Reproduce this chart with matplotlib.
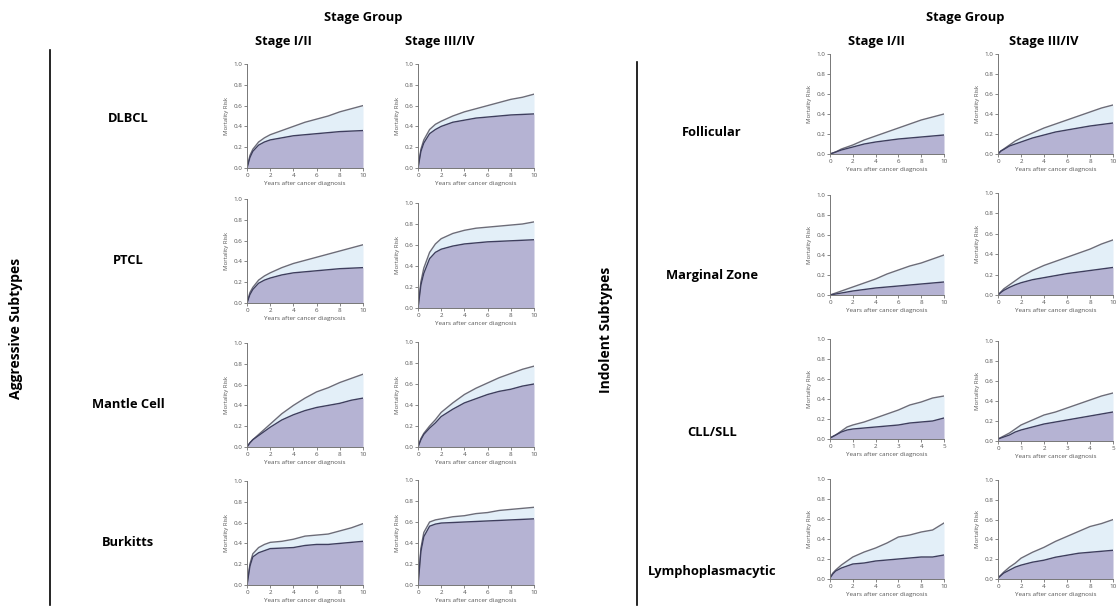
import matplotlib
matplotlib.use("Agg")
import matplotlib.pyplot as plt

plt.rcParams['font.family'] = ['Open Sans', 'DejaVu Sans']

# time points (years after diagnosis)
t10 = [0, 0.25, 0.5, 1, 1.5, 2, 3, 4, 5, 6, 7, 8, 9, 10]
t5 = [0, 0.25, 0.5, 0.75, 1, 1.5, 2, 2.5, 3, 3.5, 4, 4.5, 5]

stages = ["Stage I/II", "Stage III/IV"]
aggressive = ["DLBCL", "PTCL", "Mantle Cell", "Burkitts"]
indolent = ["Follicular", "Marginal Zone", "CLL/SLL", "Lymphoplasmacytic"]

# all-cause mortality (upper line) and lymphoma mortality (lower line)
dlbcl_12_all = [0, 0.12, 0.18, 0.25, 0.29, 0.32, 0.36, 0.40, 0.44, 0.47, 0.50, 0.54, 0.57, 0.60]
dlbcl_12_lym = [0, 0.10, 0.16, 0.22, 0.25, 0.27, 0.29, 0.31, 0.32, 0.33, 0.34, 0.35, 0.355, 0.36]
dlbcl_34_all = [0, 0.18, 0.27, 0.37, 0.42, 0.45, 0.50, 0.54, 0.57, 0.60, 0.63, 0.66, 0.68, 0.71]
dlbcl_34_lym = [0, 0.16, 0.24, 0.33, 0.37, 0.40, 0.44, 0.46, 0.48, 0.49, 0.50, 0.51, 0.515, 0.52]
ptcl_12_all = [0, 0.10, 0.15, 0.22, 0.26, 0.29, 0.34, 0.38, 0.41, 0.44, 0.47, 0.50, 0.53, 0.56]
ptcl_12_lym = [0, 0.08, 0.13, 0.19, 0.22, 0.24, 0.27, 0.29, 0.30, 0.31, 0.32, 0.33, 0.335, 0.34]
ptcl_34_all = [0, 0.25, 0.38, 0.53, 0.61, 0.66, 0.71, 0.74, 0.76, 0.77, 0.78, 0.79, 0.80, 0.82]
ptcl_34_lym = [0, 0.22, 0.33, 0.47, 0.53, 0.56, 0.59, 0.61, 0.62, 0.63, 0.635, 0.64, 0.645, 0.65]
mantle_12_all = [0, 0.04, 0.07, 0.12, 0.17, 0.22, 0.32, 0.40, 0.47, 0.53, 0.57, 0.62, 0.66, 0.70]
mantle_12_lym = [0, 0.04, 0.07, 0.11, 0.15, 0.19, 0.26, 0.31, 0.35, 0.38, 0.40, 0.42, 0.45, 0.47]
mantle_34_all = [0, 0.08, 0.13, 0.20, 0.26, 0.33, 0.42, 0.50, 0.56, 0.61, 0.66, 0.70, 0.74, 0.77]
mantle_34_lym = [0, 0.07, 0.12, 0.18, 0.23, 0.29, 0.36, 0.42, 0.46, 0.50, 0.53, 0.55, 0.58, 0.60]
burkitt_12_all = [0, 0.20, 0.30, 0.36, 0.39, 0.41, 0.42, 0.44, 0.47, 0.48, 0.49, 0.52, 0.55, 0.59]
burkitt_12_lym = [0, 0.18, 0.27, 0.31, 0.33, 0.35, 0.355, 0.36, 0.38, 0.39, 0.39, 0.40, 0.41, 0.42]
burkitt_34_all = [0, 0.35, 0.50, 0.60, 0.62, 0.63, 0.65, 0.66, 0.68, 0.69, 0.71, 0.72, 0.73, 0.74]
burkitt_34_lym = [0, 0.32, 0.46, 0.56, 0.58, 0.59, 0.595, 0.60, 0.605, 0.61, 0.615, 0.62, 0.625, 0.63]

foll_12_all = [0, 0.01, 0.02, 0.05, 0.07, 0.09, 0.14, 0.18, 0.22, 0.26, 0.30, 0.34, 0.37, 0.40]
foll_12_lym = [0, 0.01, 0.02, 0.04, 0.055, 0.07, 0.10, 0.12, 0.135, 0.15, 0.16, 0.17, 0.18, 0.19]
foll_34_all = [0, 0.03, 0.05, 0.09, 0.13, 0.16, 0.21, 0.26, 0.30, 0.34, 0.38, 0.42, 0.46, 0.49]
foll_34_lym = [0, 0.03, 0.045, 0.08, 0.10, 0.12, 0.16, 0.19, 0.22, 0.24, 0.26, 0.28, 0.295, 0.31]
mzl_12_all = [0, 0.01, 0.02, 0.04, 0.06, 0.08, 0.12, 0.16, 0.21, 0.25, 0.29, 0.32, 0.36, 0.40]
mzl_12_lym = [0, 0.005, 0.01, 0.02, 0.03, 0.04, 0.055, 0.07, 0.08, 0.09, 0.10, 0.11, 0.12, 0.13]
mzl_34_all = [0, 0.03, 0.06, 0.10, 0.14, 0.18, 0.24, 0.29, 0.33, 0.37, 0.41, 0.45, 0.50, 0.54]
mzl_34_lym = [0, 0.025, 0.045, 0.075, 0.10, 0.12, 0.15, 0.17, 0.19, 0.21, 0.225, 0.24, 0.255, 0.27]
cll_12_all = [0.01, 0.04, 0.08, 0.12, 0.14, 0.17, 0.21, 0.25, 0.29, 0.34, 0.37, 0.41, 0.43]
cll_12_lym = [0.01, 0.04, 0.07, 0.09, 0.10, 0.11, 0.12, 0.13, 0.14, 0.16, 0.17, 0.18, 0.21]
cll_34_all = [0.02, 0.05, 0.08, 0.12, 0.16, 0.21, 0.26, 0.29, 0.33, 0.37, 0.41, 0.45, 0.48]
cll_34_lym = [0.02, 0.04, 0.06, 0.09, 0.11, 0.14, 0.17, 0.19, 0.21, 0.23, 0.25, 0.27, 0.29]
lpl_12_all = [0.01, 0.06, 0.09, 0.14, 0.18, 0.22, 0.27, 0.31, 0.36, 0.42, 0.44, 0.47, 0.49, 0.56]
lpl_12_lym = [0.01, 0.05, 0.08, 0.11, 0.13, 0.15, 0.16, 0.18, 0.19, 0.20, 0.21, 0.22, 0.22, 0.24]
lpl_34_all = [0.01, 0.04, 0.07, 0.12, 0.16, 0.21, 0.27, 0.32, 0.38, 0.43, 0.48, 0.53, 0.56, 0.60]
lpl_34_lym = [0.01, 0.035, 0.06, 0.09, 0.12, 0.14, 0.17, 0.19, 0.22, 0.24, 0.26, 0.27, 0.28, 0.29]

W, H = 1120, 613
FILL_ALL = "#e3eff8"
FILL_LYM = "#b5b3d3"
LINE_ALL = "#6c6c78"
LINE_LYM = "#3e3e5e"
GREY = "#777777"
HEAD = 9.3


def small_plot(fig, box, t, y_all, y_lym, xmax):
    # box is (left, top, right, bottom) in pixels
    l, tp, r, b = box
    ax = fig.add_axes([l / W, 1 - b / H, (r - l) / W, (b - tp) / H])
    ax.fill_between(t, y_lym, y_all, color=FILL_ALL, lw=0)
    ax.fill_between(t, 0, y_lym, color=FILL_LYM, lw=0)
    ax.plot(t, y_all, color=LINE_ALL, lw=1.0)
    ax.plot(t, y_lym, color=LINE_LYM, lw=1.0)
    ax.set_xlim(0, xmax)
    ax.set_ylim(0, 1.0)
    ax.set_yticks([0, 0.2, 0.4, 0.6, 0.8, 1.0])
    ax.set_yticklabels(["0.0", "0.2", "0.4", "0.6", "0.8", "1.0"])
    if xmax == 10:
        ax.set_xticks([0, 2, 4, 6, 8, 10])
    else:
        ax.set_xticks([0, 1, 2, 3, 4, 5])
    ax.margins(0)
    for s in ["top", "right"]:
        ax.spines[s].set_visible(False)
    for s in ["left", "bottom"]:
        ax.spines[s].set_color(GREY)
        ax.spines[s].set_linewidth(0.7)
    ax.tick_params(labelsize=4.5, colors="#555555", length=2, width=0.5, pad=1.5)
    ax.set_ylabel("Mortality Risk", fontsize=4.3, color="#555555", labelpad=3)
    ax.set_xlabel("Years after cancer diagnosis", fontsize=4.5, color="#555555", labelpad=2)
    return ax


fig = plt.figure(figsize=(W / 100, H / 100), dpi=100)

# ---- aggressive panel ----
left_rows = [
    (dlbcl_12_all, dlbcl_12_lym, dlbcl_34_all, dlbcl_34_lym),
    (ptcl_12_all, ptcl_12_lym, ptcl_34_all, ptcl_34_lym),
    (mantle_12_all, mantle_12_lym, mantle_34_all, mantle_34_lym),
    (burkitt_12_all, burkitt_12_lym, burkitt_34_all, burkitt_34_lym),
]
left_cols = [(247, 363), (418, 534)]
left_y = [[(64, 168), (64, 168)], [(199, 303), (203, 308)],
          [(343, 447), (342, 447)], [(481, 585), (480, 585)]]
left_label_y = [119, 260, 405, 543]

for i, row in enumerate(left_rows):
    for j in range(2):
        ya, yl = row[2 * j], row[2 * j + 1]
        x0, x1 = left_cols[j]
        y0, y1 = left_y[i][j]
        small_plot(fig, (x0, y0, x1, y1), t10, ya, yl, 10)
    fig.text(128 / W, 1 - left_label_y[i] / H, aggressive[i], fontsize=HEAD,
             fontweight="bold", ha="center", va="center")

# ---- indolent panel ----
right_rows = [
    (foll_12_all, foll_12_lym, foll_34_all, foll_34_lym, t10, 10),
    (mzl_12_all, mzl_12_lym, mzl_34_all, mzl_34_lym, t10, 10),
    (cll_12_all, cll_12_lym, cll_34_all, cll_34_lym, t5, 5),
    (lpl_12_all, lpl_12_lym, lpl_34_all, lpl_34_lym, t10, 10),
]
right_cols = [(830, 944), (998, 1113)]
right_y = [[(54, 154), (54, 154)], [(195, 295), (193, 295)],
           [(339, 439), (341, 441)], [(479, 579), (480, 579)]]
right_label_y = [133, 276, 433, 572]

for i, row in enumerate(right_rows):
    for j in range(2):
        x0, x1 = right_cols[j]
        y0, y1 = right_y[i][j]
        small_plot(fig, (x0, y0, x1, y1), row[4], row[2 * j], row[2 * j + 1], row[5])
    fig.text(712 / W, 1 - right_label_y[i] / H, indolent[i], fontsize=HEAD,
             fontweight="bold", ha="center", va="center")

# ---- headers ----
fig.text(363 / W, 1 - 17 / H, "Stage Group", fontsize=HEAD, fontweight="bold", ha="center", va="center")
fig.text(283 / W, 1 - 41 / H, stages[0], fontsize=HEAD, fontweight="bold", ha="center", va="center")
fig.text(440 / W, 1 - 41 / H, stages[1], fontsize=HEAD, fontweight="bold", ha="center", va="center")
fig.text(965 / W, 1 - 17 / H, "Stage Group", fontsize=HEAD, fontweight="bold", ha="center", va="center")
fig.text(876 / W, 1 - 41 / H, stages[0], fontsize=HEAD, fontweight="bold", ha="center", va="center")
fig.text(1044 / W, 1 - 41 / H, stages[1], fontsize=HEAD, fontweight="bold", ha="center", va="center")

# ---- group brackets ----
fig.add_artist(plt.Line2D([50 / W, 50 / W], [1 - 50 / H, 1 - 605 / H], color="black", lw=1.2))
fig.add_artist(plt.Line2D([637 / W, 637 / W], [1 - 62 / H, 1 - 605 / H], color="black", lw=1.2))
fig.text(16 / W, 1 - 328 / H, "Aggressive Subtypes", fontsize=10, fontweight="bold",
         rotation=90, ha="center", va="center")
fig.text(606 / W, 1 - 330 / H, "Indolent Subtypes", fontsize=10, fontweight="bold",
         rotation=90, ha="center", va="center")

fig.savefig("out.png", dpi=100, facecolor="white")
